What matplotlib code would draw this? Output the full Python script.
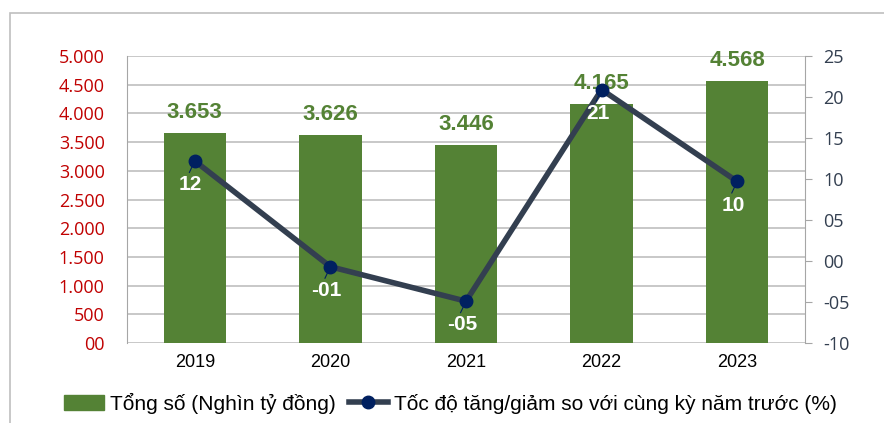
import matplotlib.pyplot as plt
from matplotlib.patches import Rectangle
from matplotlib.lines import Line2D
from matplotlib.patches import Patch

# data
years = ['2019', '2020', '2021', '2022', '2023']
total = [3653, 3626, 3446, 4165, 4568]          # Nghin ty dong
growth = [12.2, -0.7, -4.9, 20.9, 9.7]          # %
total_labels = ['3.653', '3.626', '3.446', '4.165', '4.568']
growth_labels = ['12', '-01', '-05', '21', '10']
left_ticks = [0, 500, 1000, 1500, 2000, 2500, 3000, 3500, 4000, 4500, 5000]
left_ticklabels = ['00', '500', '1.000', '1.500', '2.000', '2.500', '3.000', '3.500', '4.000', '4.500', '5.000']
right_ticks = [-10, -5, 0, 5, 10, 15, 20, 25]
right_ticklabels = ['-10', '-05', '00', '05', '10', '15', '20', '25']

green = '#548235'
navy = '#002060'
line_col = '#333F50'

fig = plt.figure(figsize=(8.84, 4.23), dpi=100)
ax = fig.add_axes([127/884, 1-343/423, (805-127)/884, (343-56)/423])

x = list(range(len(years)))
ax.bar(x, total, width=0.46, color=green, zorder=2)
ax.set_ylim(0, 5000)
ax.set_xlim(-0.5, 4.5)
ax.set_yticks(left_ticks)
ax.set_yticklabels(left_ticklabels, color='#C00000', fontsize=13, family='Open Sans')
ax.tick_params(axis='y', length=0, pad=16)
ax.set_xticks(x)
ax.set_xticklabels(years, fontsize=13, family='Liberation Sans')
ax.tick_params(axis='x', length=0, pad=8)
ax.grid(axis='y', color='#BFBFBF', linewidth=1.2, zorder=0)
ax.set_axisbelow(True)
for s in ['top', 'right', 'left', 'bottom']:
    ax.spines[s].set_visible(False)
ax.spines['left'].set_visible(True)
ax.spines['left'].set_color('#A6A6A6')

for i in x:
    ax.text(i, total[i] + 360, total_labels[i], ha='center', va='center',
            color=green, fontsize=16, fontweight='bold', family='Liberation Sans')

ax2 = ax.twinx()
ax2.plot(x, growth, color=line_col, linewidth=4, zorder=3)
ax2.plot(x, growth, 'o', color=navy, markersize=9, zorder=4)
ax2.set_ylim(-10, 25)
ax2.set_yticks(right_ticks)
ax2.set_yticklabels(right_ticklabels, color='#333F50', fontsize=13, family='Open Sans')
ax2.tick_params(axis='y', length=5, color='#A6A6A6', pad=8)
for s in ['top', 'left', 'bottom']:
    ax2.spines[s].set_visible(False)
ax2.spines['right'].set_color('#A6A6A6')

for i in x:
    ax2.plot([i - 0.04, i], [growth[i] - 1.4, growth[i]], color=navy, linewidth=0.8, zorder=3)
    ax2.text(i - 0.03, growth[i] - 2.9, growth_labels[i], ha='center', va='center',
             color='white', fontsize=15, fontweight='bold', family='Liberation Sans', zorder=5)

# outer frame
fig.patches.append(Rectangle((10/884, -0.1), 1.2, 1 - 13/423 + 0.1, transform=fig.transFigure,
                             fill=False, edgecolor='#BFBFBF', linewidth=1.2))

handles = [Patch(color=green),
           Line2D([0], [0], color=line_col, linewidth=4, marker='o', markersize=9,
                  markerfacecolor=navy, markeredgecolor=navy)]
labels = ['Tổng số (Nghìn tỷ đồng)', 'Tốc độ tăng/giảm so với cùng kỳ năm trước (%)']
fig.legend(handles, labels, loc='center', bbox_to_anchor=(0.51, 1 - 403/423), ncol=2,
           frameon=False, prop={'family': 'Liberation Sans', 'size': 15},
           handlelength=1.9, handletextpad=0.3, columnspacing=0.6)

fig.savefig('out.png', dpi=100)
